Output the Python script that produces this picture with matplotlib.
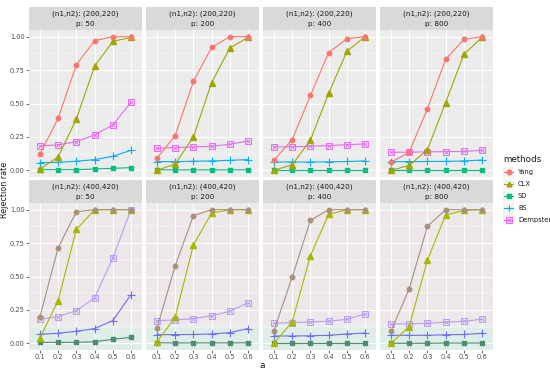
import matplotlib
matplotlib.use("Agg")
import matplotlib.pyplot as plt
import numpy as np

a_vals = [0.1, 0.2, 0.3, 0.4, 0.5, 0.6]
a_labels = ["0.1", "0.2", "0.3", "0.4", "0.5", "0.6"]
methods = ["Yang", "CLX", "SD", "BS", "Dempster"]
n_labels = ["(200,220)", "(400,420)"]
p_labels = ["50", "200", "400", "800"]

# (n1,n2)=(200,220)
yang_200 = [[0.12, 0.39, 0.79, 0.97, 1.00, 1.00],
            [0.09, 0.26, 0.665, 0.92, 1.00, 1.00],
            [0.075, 0.23, 0.56, 0.88, 0.985, 1.00],
            [0.06, 0.135, 0.46, 0.83, 0.98, 1.00]]
clx_200 = [[0.01, 0.10, 0.385, 0.78, 0.965, 0.995],
           [0.0, 0.047, 0.25, 0.657, 0.915, 0.995],
           [0.0, 0.042, 0.225, 0.575, 0.89, 1.00],
           [0.0, 0.037, 0.155, 0.507, 0.867, 0.995]]
sd_200 = [[0.005, 0.005, 0.005, 0.01, 0.015, 0.02],
          [0.004, 0.003, 0.003, 0.003, 0.003, 0.004],
          [0.0, 0.0, 0.0, 0.0, 0.0, 0.0],
          [0.0, 0.0, 0.0, 0.0, 0.0, 0.0]]
bs_200 = [[0.057, 0.06, 0.068, 0.08, 0.105, 0.15],
          [0.065, 0.065, 0.068, 0.07, 0.075, 0.08],
          [0.062, 0.062, 0.062, 0.063, 0.066, 0.07],
          [0.065, 0.065, 0.066, 0.067, 0.07, 0.077]]
dem_200 = [[0.182, 0.19, 0.215, 0.265, 0.34, 0.51],
           [0.165, 0.17, 0.175, 0.18, 0.195, 0.22],
           [0.175, 0.176, 0.18, 0.185, 0.192, 0.197],
           [0.135, 0.136, 0.138, 0.14, 0.141, 0.15]]

# (n1,n2)=(400,420)
yang_400 = [[0.20, 0.715, 0.985, 1.00, 1.00, 1.00],
            [0.112, 0.58, 0.955, 1.00, 1.00, 1.00],
            [0.095, 0.495, 0.92, 1.00, 1.00, 1.00],
            [0.09, 0.407, 0.875, 1.00, 1.00, 1.00]]
clx_400 = [[0.04, 0.32, 0.852, 1.00, 1.00, 1.00],
           [0.01, 0.195, 0.735, 0.975, 1.00, 1.00],
           [0.0, 0.16, 0.655, 0.965, 1.00, 1.00],
           [0.0, 0.125, 0.622, 0.96, 0.995, 1.00]]
sd_400 = [[0.007, 0.007, 0.007, 0.012, 0.03, 0.045],
          [0.004, 0.003, 0.003, 0.003, 0.003, 0.004],
          [0.0, 0.0, 0.0, 0.0, 0.0, 0.0],
          [0.0, 0.0, 0.0, 0.002, 0.002, 0.002]]
bs_400 = [[0.067, 0.075, 0.09, 0.11, 0.17, 0.365],
          [0.065, 0.065, 0.066, 0.07, 0.08, 0.11],
          [0.055, 0.055, 0.056, 0.06, 0.07, 0.077],
          [0.06, 0.06, 0.06, 0.064, 0.066, 0.075]]
dem_400 = [[0.18, 0.20, 0.245, 0.34, 0.64, 1.00],
           [0.17, 0.175, 0.185, 0.205, 0.24, 0.305],
           [0.15, 0.155, 0.16, 0.165, 0.18, 0.22],
           [0.145, 0.146, 0.15, 0.158, 0.165, 0.18]]

data = {
    0: [yang_200, clx_200, sd_200, bs_200, dem_200],
    1: [yang_400, clx_400, sd_400, bs_400, dem_400],
}

colors_top = ["#F8766D", "#A3A500", "#00BF7D", "#00B0F6", "#E76BF3"]
colors_bot = ["#A8907A", "#A6B800", "#4E8C70", "#6E6EF0", "#B99CF2"]

W, H = 550, 373
fig = plt.figure(figsize=(W / 100, H / 100), dpi=100)

def fx(px):
    return px / W

def fy(py):
    return 1 - py / H

panel_x = [(29, 142), (146, 259), (263, 376), (380, 493)]
rows = [((7, 30), (30, 177)), ((180, 203), (203, 350))]

def draw_series(ax, y, i, col):
    ms = 3.2
    lw = 0.8
    if i == 0:
        ax.plot(a_vals, y, color=col, lw=lw, marker="o", ms=ms, mec=col, mfc=col, zorder=3)
    elif i == 1:
        ax.plot(a_vals, y, color=col, lw=lw, marker="^", ms=ms + 0.6, mec=col, mfc=col, zorder=3)
    elif i == 2:
        ax.plot(a_vals, y, color=col, lw=lw, marker="s", ms=ms - 0.3, mec=col, mfc=col, zorder=3)
    elif i == 3:
        ax.plot(a_vals, y, color=col, lw=lw, marker="+", ms=ms + 2, mew=0.8, mec=col, zorder=3)
    else:
        ax.plot(a_vals, y, color=col, lw=lw, marker="s", ms=ms + 0.6, mew=0.7, mec=col, mfc="none", zorder=3)
        ax.plot(a_vals, y, ls="none", marker="x", ms=ms, mew=0.7, mec=col, zorder=3)

for r, ((s0, s1), (p0, p1)) in enumerate(rows):
    cols = colors_top if r == 0 else colors_bot
    for c, (x0, x1) in enumerate(panel_x):
        # strip
        sax = fig.add_axes([fx(x0), fy(s1), fx(x1) - fx(x0), fy(s0) - fy(s1)])
        sax.set_facecolor("#D9D9D9")
        sax.set_xticks([]); sax.set_yticks([])
        for sp in sax.spines.values():
            sp.set_visible(False)
        sax.text(0.5, 0.72, "(n1,n2): " + n_labels[r], ha="center", va="center",
                 fontsize=5.2, color="#1A1A1A", transform=sax.transAxes)
        sax.text(0.5, 0.27, "p: " + p_labels[c], ha="center", va="center",
                 fontsize=5.2, color="#1A1A1A", transform=sax.transAxes)
        # panel
        ax = fig.add_axes([fx(x0), fy(p1), fx(x1) - fx(x0), fy(p0) - fy(p1)])
        ax.set_facecolor("#EBEBEB")
        ax.set_xlim(0.04, 0.66)
        ax.set_ylim(-0.05, 1.05)
        if r == 1:
            ax.axhspan(0.16, 1.0, color="#F8DDEA", alpha=0.25, lw=0, zorder=0.5)
            ax.axhspan(-0.05, 0.12, color="#C8F2E4", alpha=0.35, lw=0, zorder=0.5)
        ax.set_yticks([0, 0.25, 0.5, 0.75, 1.0])
        ax.set_yticks([0.125, 0.375, 0.625, 0.875], minor=True)
        ax.set_xticks(a_vals)
        ax.grid(True, which="major", color="white", lw=0.7, zorder=1)
        ax.grid(True, which="minor", axis="y", color="white", lw=0.35, zorder=1)
        ax.tick_params(which="minor", length=0)
        ax.tick_params(which="major", length=2, width=0.5, color="#333333",
                       labelsize=4.8, labelcolor="#4D4D4D", pad=1.2)
        ax.set_axisbelow(True)
        for sp in ax.spines.values():
            sp.set_visible(False)
        if c == 0:
            ax.set_yticklabels(["0.00", "0.25", "0.50", "0.75", "1.00"])
        else:
            ax.tick_params(axis="y", length=0, labelleft=False)
        if r == 1:
            ax.set_xticklabels(a_labels)
        else:
            ax.tick_params(axis="x", length=0, labelbottom=False)
        series = data[r]
        for i in [4, 3, 2, 1, 0]:
            draw_series(ax, series[i][c], i, cols[i])

fig.text(fx(4.5), fy(190), "Rejection rate", rotation=90, ha="center", va="center",
         fontsize=5.8, color="#1A1A1A")
fig.text(fx(262), fy(366), "a", ha="center", va="center", fontsize=6.5, color="#1A1A1A")

# legend
fig.text(fx(503), fy(159), "methods", ha="left", va="center", fontsize=6.3, color="#1A1A1A")
shapes = [("o", "#F8766D"), ("^", "#A3A500"), ("s", "#00BF7D"), ("+", "#00B0F6"), ("s", "#E76BF3")]
for k, name in enumerate(methods):
    yk = 172 + k * 12
    kax = fig.add_axes([fx(503), fy(yk + 5.5), fx(11), fy(0) - fy(11)])
    kax.set_xlim(0, 1); kax.set_ylim(0, 1)
    kax.set_facecolor("#F2F2F2")
    kax.set_xticks([]); kax.set_yticks([])
    for sp in kax.spines.values():
        sp.set_visible(False)
    m, col = shapes[k]
    kax.plot([0.05, 0.95], [0.5, 0.5], color=col, lw=0.8)
    if k == 4:
        kax.plot([0.5], [0.5], marker="s", ms=3.8, mfc="none", mec=col, mew=0.7)
        kax.plot([0.5], [0.5], marker="x", ms=3.2, mec=col, mew=0.7)
    elif k == 3:
        kax.plot([0.5], [0.5], marker="+", ms=5, mec=col, mew=0.8)
    else:
        kax.plot([0.5], [0.5], marker=m, ms=3.3, mfc=col, mec=col)
    fig.text(fx(518), fy(yk), name, ha="left", va="center", fontsize=4.9, color="#1A1A1A")

fig.savefig("out.png", dpi=100, facecolor="white")
